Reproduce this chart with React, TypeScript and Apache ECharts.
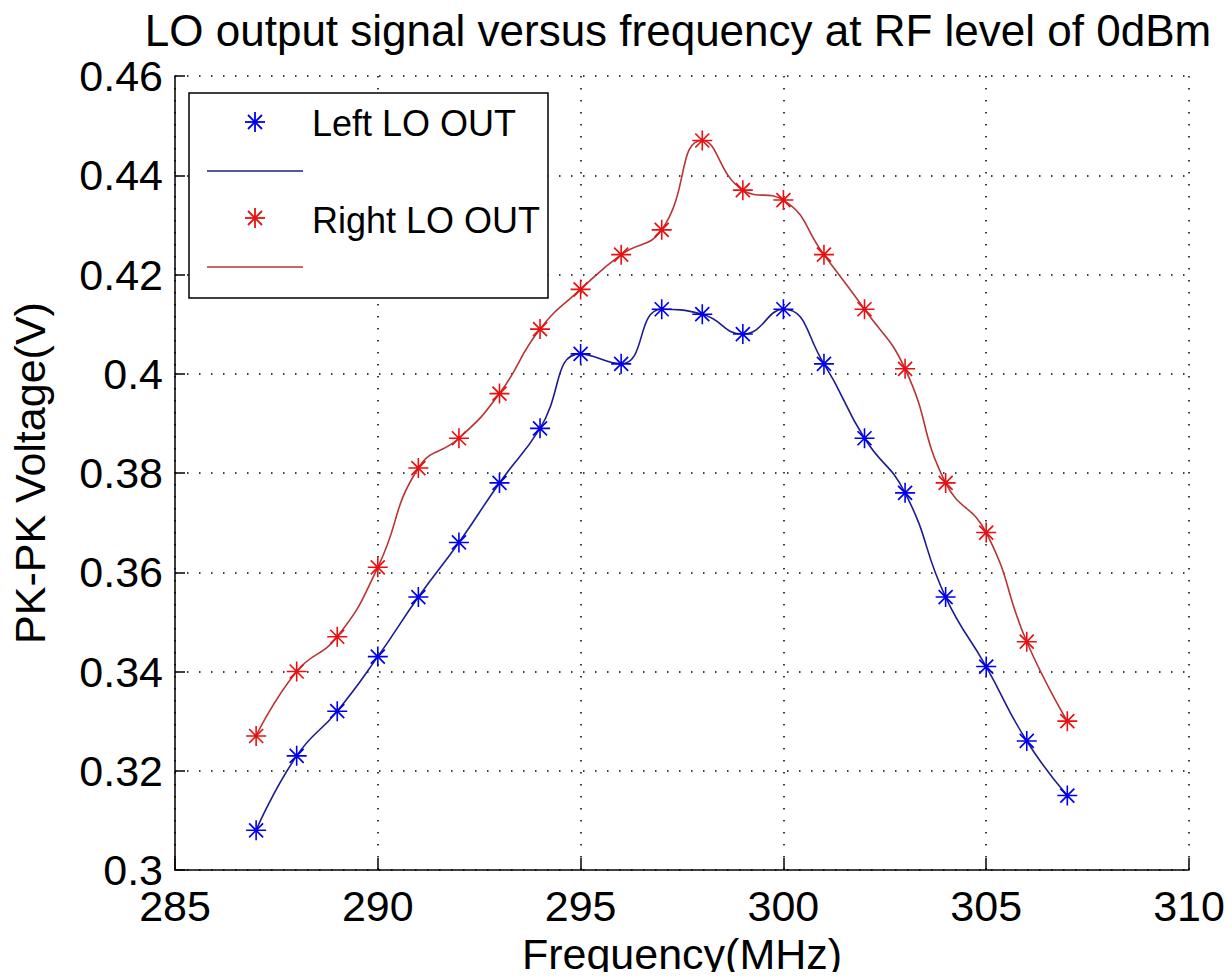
import React, { useEffect, useRef } from "react";
import * as echarts from "echarts";

const freq = [287, 288, 289, 290, 291, 292, 293, 294, 295, 296, 297, 298, 299, 300, 301, 302, 303, 304, 305, 306, 307];
const leftOut = [0.308, 0.323, 0.332, 0.343, 0.355, 0.366, 0.378, 0.389, 0.404, 0.402, 0.413, 0.412, 0.408, 0.413, 0.402, 0.387, 0.376, 0.355, 0.341, 0.326, 0.315];
const rightOut = [0.327, 0.340, 0.347, 0.361, 0.381, 0.387, 0.396, 0.409, 0.417, 0.424, 0.429, 0.447, 0.437, 0.435, 0.424, 0.413, 0.401, 0.378, 0.368, 0.346, 0.330];
const seriesNames = ["Left LO OUT", "Right LO OUT"];
const titleText = "LO output signal versus frequency at RF level of 0dBm";
const xName = "Frequency(MHz)";
const yName = "PK-PK Voltage(V)";

const FONT = "'Liberation Sans', Arial, Helvetica, sans-serif";
const STAR =
  "path://M9.2,0 L10.8,0 L10.8,20 L9.2,20 Z M0,9.2 L20,9.2 L20,10.8 L0,10.8 Z " +
  "M2.4,3.6 L3.6,2.4 L17.6,16.4 L16.4,17.6 Z M16.4,2.4 L17.6,3.6 L3.6,17.6 L2.4,16.4 Z";

function starLines(cx: number, cy: number, color: string) {
  const r = 10;
  const d = 7;
  const s = { stroke: color, lineWidth: 1.8 };
  return [
    { type: "line", shape: { x1: cx - r, y1: cy, x2: cx + r, y2: cy }, style: s, z: 101 },
    { type: "line", shape: { x1: cx, y1: cy - r, x2: cx, y2: cy + r }, style: s, z: 101 },
    { type: "line", shape: { x1: cx - d, y1: cy - d, x2: cx + d, y2: cy + d }, style: s, z: 101 },
    { type: "line", shape: { x1: cx - d, y1: cy + d, x2: cx + d, y2: cy - d }, style: s, z: 101 },
  ];
}

export default function App() {
  const ref = useRef<HTMLDivElement>(null);
  useEffect(() => {
    if (!ref.current) return;
    const chart = echarts.init(ref.current, null, { renderer: "svg" });
    const dotted = { type: [1.5, 10.5] as any, color: "#000", width: 1.5 };
    const option: any = {
      animation: false,
      backgroundColor: "#fff",
      textStyle: { fontFamily: FONT },
      grid: { left: 172, right: 43, top: 76, bottom: 107, containLabel: false },
      xAxis: {
        type: "value",
        min: 285,
        max: 310,
        interval: 5,
        name: xName,
        nameLocation: "middle",
        nameGap: 62,
        nameTextStyle: { fontSize: 43, color: "#000", fontFamily: FONT },
        axisLine: { show: true, onZero: false, lineStyle: { color: "#000", width: 1.5 } },
        axisTick: { show: true, inside: true, length: 12, lineStyle: { color: "#000", width: 1.5 } },
        axisLabel: { fontSize: 43, color: "#000", margin: 14, fontFamily: FONT },
        splitLine: { show: true, lineStyle: dotted },
      },
      yAxis: {
        type: "value",
        min: 0.3,
        max: 0.46,
        interval: 0.02,
        name: yName,
        nameLocation: "middle",
        nameGap: 124,
        nameTextStyle: { fontSize: 43, color: "#000", fontFamily: FONT },
        axisLine: { show: true, onZero: false, lineStyle: { color: "#000", width: 1.5 } },
        axisTick: { show: true, inside: true, length: 10, lineStyle: { color: "#000", width: 1.5 } },
        axisLabel: { fontSize: 43, color: "#000", margin: 12, fontFamily: FONT },
        splitLine: { show: true, lineStyle: dotted },
      },
      series: [
        {
          name: seriesNames[0],
          type: "line",
          smooth: 0.5,
          data: freq.map((f, i) => [f, leftOut[i]]),
          symbol: STAR,
          symbolSize: 20,
          showSymbol: true,
          itemStyle: { color: "#0000ee" },
          lineStyle: { color: "#1c1c90", width: 1.6 },
          z: 3,
        },
        {
          name: seriesNames[1],
          type: "line",
          smooth: 0.5,
          data: freq.map((f, i) => [f, rightOut[i]]),
          symbol: STAR,
          symbolSize: 20,
          showSymbol: true,
          itemStyle: { color: "#e81010" },
          lineStyle: { color: "#b83434", width: 1.6 },
          z: 3,
        },
      ],
      graphic: [
        {
          type: "text",
          x: 678,
          y: 8,
          z: 100,
          style: { text: titleText, fontSize: 44, fill: "#000", fontFamily: FONT, textAlign: "center", textVerticalAlign: "top" },
        },
        {
          type: "rect",
          shape: { x: 189, y: 93, width: 359, height: 205 },
          style: { fill: "#fff", stroke: "#000", lineWidth: 1.5 },
          z: 100,
        },
        ...starLines(255, 122, "#0000ee"),
        {
          type: "text",
          x: 312,
          y: 123,
          z: 101,
          style: { text: seriesNames[0], fontSize: 36, fill: "#000", fontFamily: FONT, textVerticalAlign: "middle" },
        },
        { type: "line", shape: { x1: 207, y1: 171, x2: 303, y2: 171 }, style: { stroke: "#1c1c90", lineWidth: 1.6 }, z: 101 },
        ...starLines(255, 218, "#e81010"),
        {
          type: "text",
          x: 312,
          y: 220,
          z: 101,
          style: { text: seriesNames[1], fontSize: 36, fill: "#000", fontFamily: FONT, textVerticalAlign: "middle" },
        },
        { type: "line", shape: { x1: 207, y1: 267, x2: 303, y2: 267 }, style: { stroke: "#b83434", lineWidth: 1.6 }, z: 101 },
      ],
    };
    chart.setOption(option);
    return () => chart.dispose();
  }, []);
  return <div ref={ref} style={{ width: 1232, height: 980, margin: -8 }} />;
}
